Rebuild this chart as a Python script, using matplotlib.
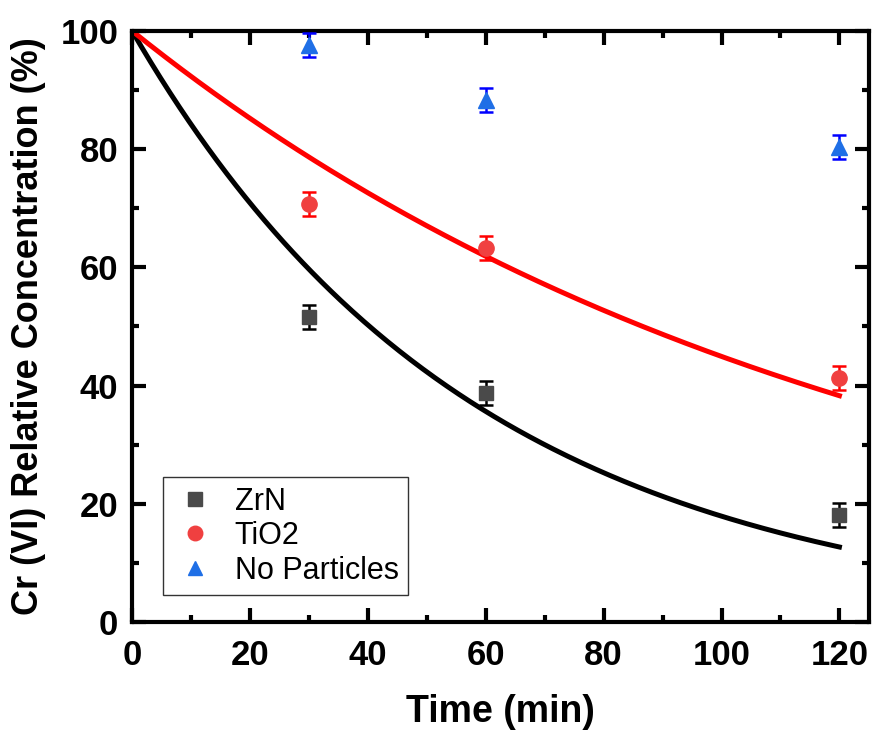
import numpy as np
import matplotlib
matplotlib.use("Agg")
import matplotlib.pyplot as plt
from matplotlib.ticker import MultipleLocator

plt.rcParams['font.family'] = ['Liberation Sans', 'DejaVu Sans']

# --- Donnees ---
temps = [30, 60, 120]
zrn = [51.6, 38.7, 18.1]
zrn_err = [2.0, 2.0, 2.0]
tio2 = [70.7, 63.3, 41.3]
tio2_err = [2.0, 2.0, 2.0]
sans_part = [97.6, 88.3, 80.4]
sans_part_err = [2.0, 2.0, 2.0]

# constantes de vitesse des ajustements (ordre 1), en 1/min
k_zrn = 0.0172
k_tio2 = 0.0080

t_fit = np.linspace(0, 120, 300)

fig = plt.figure(figsize=(8.75, 7.37), dpi=100)
ax = fig.add_axes([0.151, 0.156, 0.842, 0.802])

ax.plot(t_fit, 100 * np.exp(-k_zrn * t_fit), color="black", lw=3.6, zorder=2)
ax.plot(t_fit, 100 * np.exp(-k_tio2 * t_fit), color="#ff0000", lw=3.6, zorder=2)

ax.errorbar(temps, zrn, yerr=zrn_err, fmt="s", ms=10, color="#4a4a4a",
            ecolor="black", elinewidth=1.8, capsize=5, capthick=1.8,
            label="ZrN", zorder=3)
ax.errorbar(temps, tio2, yerr=tio2_err, fmt="o", ms=11, color="#f04040",
            ecolor="#ff0000", elinewidth=1.8, capsize=5, capthick=1.8,
            label="TiO2", zorder=3)
ax.errorbar(temps, sans_part, yerr=sans_part_err, fmt="^", ms=11,
            color="#1f6fe6", ecolor="#0000ff", elinewidth=1.8, capsize=5,
            capthick=1.8, label="No Particles", zorder=3)

ax.set_xlim(0, 125)
ax.set_ylim(0, 100)
ax.xaxis.set_major_locator(MultipleLocator(20))
ax.xaxis.set_minor_locator(MultipleLocator(10))
ax.yaxis.set_major_locator(MultipleLocator(20))
ax.yaxis.set_minor_locator(MultipleLocator(10))
ax.tick_params(which="both", direction="in", top=True, right=True, width=3)
ax.tick_params(which="major", length=10, labelsize=25)
ax.tick_params(which="minor", length=5)
ax.tick_params(axis="x", which="major", pad=12)
ax.tick_params(axis="y", which="major", pad=10)
for lab in ax.get_xticklabels() + ax.get_yticklabels():
    lab.set_fontweight("bold")
for sp in ax.spines.values():
    sp.set_linewidth(3)

ax.set_xlabel("Time (min)", fontsize=27, fontweight="bold", labelpad=16)
ax.set_ylabel("Cr (VI) Relative Concentration (%)", fontsize=26,
              fontweight="bold", labelpad=10)

handles, labels = ax.get_legend_handles_labels()
handles = [h[0] for h in handles]
leg = ax.legend(handles, labels, loc="lower left", bbox_to_anchor=(0.042, 0.046),
                borderaxespad=0, fontsize=22, frameon=True, fancybox=False,
                handletextpad=0.55, borderpad=0.3, labelspacing=0.15,
                handlelength=1.5, markerscale=0.95)
leg.get_frame().set_edgecolor("black")
leg.get_frame().set_linewidth(1.0)

fig.savefig("out.png", dpi=100)
